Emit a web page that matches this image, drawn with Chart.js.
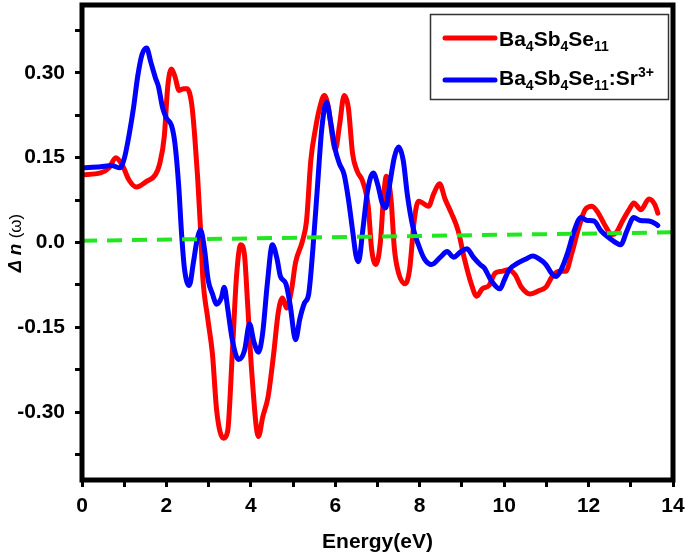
<!DOCTYPE html>
<html>
<head>
<meta charset="utf-8">
<script src="https://cdn.jsdelivr.net/npm/chart.js@4.4.1/dist/chart.umd.min.js"></script>
<style>
  html, body { margin: 0; padding: 0; background: #fff; }
  canvas { display: block; }
</style>
</head>
<body>
<canvas id="chart" width="685" height="555"></canvas>
<script>
// Ba4Sb4Se11 (red)
const energyRed = [0.02, 0.44, 0.64, 0.80, 0.96, 1.11, 1.29, 1.53, 1.74, 1.84, 1.95, 2.03, 2.12, 2.20, 2.30, 2.41, 2.49, 2.60, 2.67, 2.74, 2.81, 2.86, 2.98, 3.09, 3.19, 3.35, 3.45, 3.56, 3.66, 3.76, 3.85, 3.92, 4.02, 4.18, 4.28, 4.41, 4.54, 4.65, 4.75, 4.85, 4.96, 5.06, 5.22, 5.32, 5.42, 5.53, 5.63, 5.74, 5.84, 5.93, 6.00, 6.10, 6.21, 6.31, 6.41, 6.52, 6.65, 6.78, 6.86, 6.96, 7.07, 7.14, 7.21, 7.32, 7.40, 7.50, 7.66, 7.76, 7.87, 7.97, 8.07, 8.21, 8.33, 8.47, 8.60, 8.75, 8.91, 9.06, 9.22, 9.35, 9.48, 9.64, 9.79, 9.94, 10.10, 10.26, 10.41, 10.62, 10.83, 10.99, 11.14, 11.30, 11.46, 11.61, 11.77, 11.92, 12.08, 12.23, 12.39, 12.55, 12.65, 12.81, 12.96, 13.07, 13.24, 13.43, 13.57, 13.64];
const deltaRed = [0.120, 0.123, 0.132, 0.150, 0.136, 0.111, 0.098, 0.108, 0.120, 0.139, 0.188, 0.275, 0.307, 0.294, 0.269, 0.272, 0.272, 0.244, 0.188, 0.114, 0.021, -0.060, -0.135, -0.197, -0.297, -0.346, -0.334, -0.197, -0.060, -0.004, -0.023, -0.104, -0.228, -0.343, -0.309, -0.272, -0.197, -0.123, -0.098, -0.116, -0.085, -0.035, 0.002, 0.039, 0.145, 0.201, 0.238, 0.260, 0.238, 0.188, 0.164, 0.207, 0.260, 0.238, 0.157, 0.126, 0.108, 0.064, -0.011, -0.039, 0.002, 0.077, 0.117, 0.077, -0.011, -0.054, -0.073, -0.048, 0.039, 0.073, 0.070, 0.064, 0.086, 0.104, 0.077, 0.052, 0.021, -0.029, -0.073, -0.095, -0.082, -0.076, -0.054, -0.051, -0.048, -0.057, -0.079, -0.091, -0.085, -0.079, -0.060, -0.051, -0.051, -0.017, 0.027, 0.058, 0.064, 0.052, 0.030, 0.014, 0.017, 0.039, 0.058, 0.070, 0.058, 0.077, 0.067, 0.052];

// Ba4Sb4Se11:Sr3+ (blue)
const energyBlue = [0.02, 0.44, 0.70, 0.90, 1.01, 1.11, 1.22, 1.32, 1.42, 1.53, 1.63, 1.74, 1.81, 1.91, 2.00, 2.12, 2.20, 2.29, 2.36, 2.43, 2.54, 2.64, 2.72, 2.81, 2.90, 2.99, 3.09, 3.19, 3.30, 3.37, 3.45, 3.56, 3.71, 3.85, 3.97, 4.07, 4.18, 4.28, 4.39, 4.51, 4.62, 4.70, 4.83, 4.93, 5.06, 5.16, 5.27, 5.37, 5.47, 5.58, 5.68, 5.79, 5.89, 6.00, 6.10, 6.21, 6.31, 6.41, 6.49, 6.55, 6.65, 6.76, 6.90, 7.01, 7.11, 7.19, 7.30, 7.40, 7.50, 7.61, 7.71, 7.84, 7.97, 8.11, 8.28, 8.49, 8.65, 8.80, 8.96, 9.12, 9.27, 9.43, 9.53, 9.69, 9.90, 10.00, 10.12, 10.31, 10.52, 10.68, 10.83, 10.99, 11.12, 11.23, 11.35, 11.51, 11.66, 11.82, 11.97, 12.13, 12.29, 12.44, 12.60, 12.76, 12.91, 13.07, 13.23, 13.43, 13.59, 13.64];
const deltaBlue = [0.132, 0.134, 0.136, 0.132, 0.151, 0.188, 0.238, 0.294, 0.332, 0.344, 0.319, 0.291, 0.276, 0.238, 0.220, 0.207, 0.176, 0.101, 0.014, -0.048, -0.076, -0.035, 0.002, 0.022, -0.011, -0.067, -0.091, -0.109, -0.098, -0.079, -0.116, -0.172, -0.207, -0.191, -0.144, -0.175, -0.194, -0.160, -0.073, -0.004, -0.029, -0.060, -0.073, -0.110, -0.172, -0.135, -0.107, -0.091, -0.011, 0.101, 0.201, 0.248, 0.213, 0.164, 0.139, 0.120, 0.077, 0.021, -0.023, -0.034, 0.021, 0.089, 0.123, 0.101, 0.070, 0.061, 0.108, 0.151, 0.169, 0.145, 0.083, 0.027, -0.004, -0.029, -0.039, -0.026, -0.016, -0.026, -0.017, -0.011, -0.026, -0.039, -0.045, -0.067, -0.082, -0.067, -0.048, -0.037, -0.029, -0.024, -0.029, -0.039, -0.054, -0.060, -0.048, -0.017, 0.021, 0.044, 0.039, 0.038, 0.021, 0.011, 0.002, -0.004, 0.021, 0.044, 0.039, 0.038, 0.033, 0.030];

// green dashed reference line
const energyRef = [0, 14];
const deltaRef = [0.003, 0.018];

const xTicks = [0, 2, 4, 6, 8, 10, 12, 14];
const yTickLabels = ['-0.30', '-0.15', '0.0', '0.15', '0.30'];

const FONT = "'Liberation Sans', Arial, Helvetica, sans-serif";

const toPoints = (xs, ys) => xs.map((x, i) => ({ x: x, y: ys[i] }));

// draws the thick frame, the y title and the boxed legend with sub/superscripts
const decorations = {
  id: 'decorations',
  afterDraw(chart) {
    const ctx = chart.ctx;
    const a = chart.chartArea;
    ctx.save();

    // frame
    ctx.strokeStyle = '#000';
    ctx.lineWidth = 5;
    ctx.strokeRect(a.left, a.top, a.right - a.left, a.bottom - a.top);

    // y axis title: Δ n (ω)
    ctx.translate(16, 243);
    ctx.rotate(-Math.PI / 2);
    ctx.fillStyle = '#000';
    ctx.textBaseline = 'middle';
    const parts = [
      { t: 'Δ ', f: 'italic bold 18px ' + FONT },
      { t: 'n ', f: 'italic bold 19px ' + FONT },
      { t: '(ω)', f: '17px ' + FONT }
    ];
    let total = 0;
    parts.forEach(p => { ctx.font = p.f; p.w = ctx.measureText(p.t).width; total += p.w; });
    let px = -total / 2;
    parts.forEach(p => { ctx.font = p.f; ctx.fillText(p.t, px, 0); px += p.w; });
    ctx.restore();

    // legend
    ctx.save();
    ctx.fillStyle = '#fff';
    ctx.fillRect(430, 14, 239, 86);
    ctx.strokeStyle = '#333';
    ctx.lineWidth = 1.5;
    ctx.strokeRect(430.5, 14.5, 238, 85);

    const rows = [
      { color: '#ff0000', y: 38, base: 46, text: [['Ba', 0], ['4', 1], ['Sb', 0], ['4', 1], ['Se', 0], ['11', 1]] },
      { color: '#0000ff', y: 80, base: 85, text: [['Ba', 0], ['4', 1], ['Sb', 0], ['4', 1], ['Se', 0], ['11', 1], [':Sr', 0], ['3+', 2]] }
    ];
    rows.forEach(r => {
      ctx.strokeStyle = r.color;
      ctx.lineWidth = 5;
      ctx.lineCap = 'round';
      ctx.beginPath();
      ctx.moveTo(445, r.y);
      ctx.lineTo(495, r.y);
      ctx.stroke();

      ctx.fillStyle = '#000';
      ctx.textBaseline = 'alphabetic';
      let tx = 499;
      r.text.forEach(([s, kind]) => {
        ctx.font = (kind === 0 ? 'bold 21px ' : 'bold 14px ') + FONT;
        const dy = kind === 1 ? 5 : (kind === 2 ? -8 : 0);
        ctx.fillText(s, tx, r.base + dy);
        tx += ctx.measureText(s).width;
      });
    });
    ctx.restore();
  }
};

new Chart(document.getElementById('chart'), {
  type: 'line',
  data: {
    datasets: [
      {
        label: 'Ba4Sb4Se11',
        data: toPoints(energyRed, deltaRed),
        borderColor: '#ff0000',
        borderWidth: 5,
        pointRadius: 0,
        cubicInterpolationMode: 'monotone',
        borderCapStyle: 'round',
        borderJoinStyle: 'round',
        order: 2
      },
      {
        label: 'Ba4Sb4Se11:Sr3+',
        data: toPoints(energyBlue, deltaBlue),
        borderColor: '#0000ff',
        borderWidth: 5,
        pointRadius: 0,
        cubicInterpolationMode: 'monotone',
        borderCapStyle: 'round',
        borderJoinStyle: 'round',
        order: 1
      },
      {
        label: 'reference',
        data: toPoints(energyRef, deltaRef),
        borderColor: '#22e622',
        borderWidth: 4,
        borderDash: [15, 10],
        pointRadius: 0,
        order: 0
      }
    ]
  },
  options: {
    responsive: false,
    animation: false,
    devicePixelRatio: 1,
    layout: { padding: { top: 5, right: 12, left: 0, bottom: 0 } },
    plugins: {
      legend: { display: false },
      tooltip: { enabled: false }
    },
    scales: {
      x: {
        type: 'linear',
        min: 0,
        max: 14,
        afterFit: scale => {
          scale.height = 75;
          scale.paddingLeft = 0;
          scale.paddingRight = 0;
        },
        ticks: {
          stepSize: 1,
          autoSkip: false,
          maxRotation: 0,
          padding: 7,
          color: '#000',
          font: { family: FONT, size: 21, weight: 'bold' },
          callback: v => (xTicks.includes(v) ? String(v) : '')
        },
        grid: {
          drawOnChartArea: false,
          tickLength: 7,
          tickWidth: 3,
          tickColor: '#000'
        },
        border: { display: false },
        title: {
          display: true,
          text: 'Energy(eV)',
          color: '#000',
          font: { family: FONT, size: 21, weight: 'bold' },
          padding: { top: 0, bottom: 0 }
        }
      },
      y: {
        min: -0.42,
        max: 0.42,
        afterFit: scale => {
          scale.width = 82;
          scale.paddingTop = 0;
          scale.paddingBottom = 0;
        },
        ticks: {
          stepSize: 0.075,
          includeBounds: false,
          autoSkip: false,
          padding: 10,
          color: '#000',
          font: { family: FONT, size: 21, weight: 'bold' },
          callback: v => {
            const k = Math.round(v / 0.075);
            if (k % 2 !== 0) return '';
            return yTickLabels[k / 2 + 2] || '';
          }
        },
        grid: {
          drawOnChartArea: false,
          tickLength: 7,
          tickWidth: 3,
          tickColor: '#000'
        },
        border: { display: false }
      }
    }
  },
  plugins: [decorations]
});
</script>
</body>
</html>
